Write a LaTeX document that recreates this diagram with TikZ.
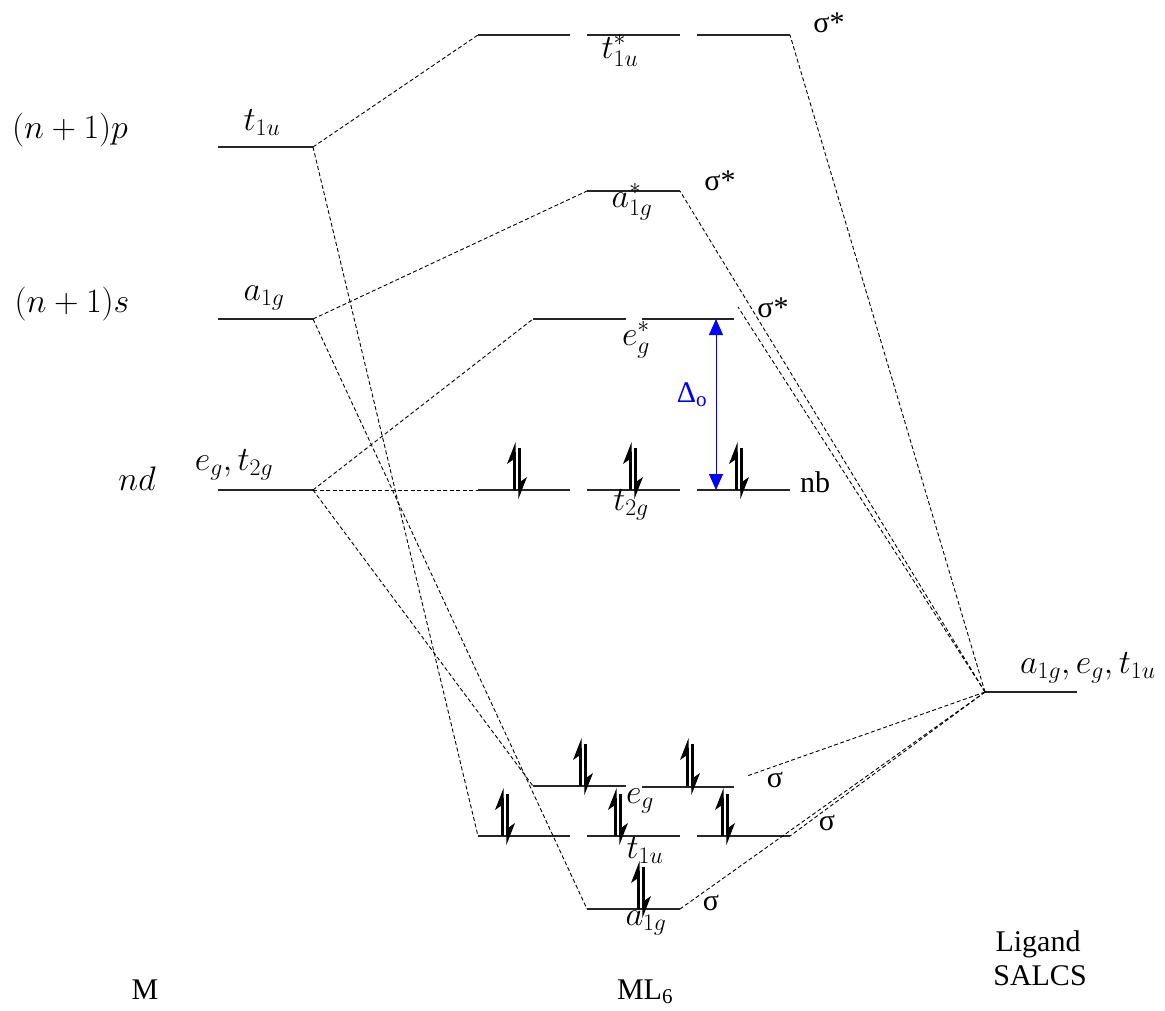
\documentclass[tikz,border=0pt]{standalone}
\usepackage{fix-cm}
\usepackage[no-math]{fontspec}
\setmainfont{Liberation Serif}
\usetikzlibrary{arrows.meta}
\begin{document}
\begin{tikzpicture}[x=1pt,y=-1pt,
  lvl/.style={line width=1.3pt, black!85},
  corr/.style={line width=0.9pt, dash pattern=on 4pt off 2.5pt},
  mlab/.style={font=\fontsize{34}{38}\selectfont, inner sep=0pt, anchor=base},
  tlab/.style={font=\fontsize{30}{34}\selectfont, inner sep=0pt, anchor=base},
  elec/.style={line width=2.2pt},
  pair/.pic={
    \draw[elec] (-2.5,0) -- (-2.5,-38);
    \fill (-1.4,-48) -- (-10,-26) -- (-1.4,-32) -- cycle;
    \draw[elec] (2.5,-42) -- (2.5,0);
    \fill (1.4,9) -- (10,-13) -- (1.4,-7) -- cycle;
  }
]
\useasboundingbox (0,0) rectangle (1165,1010);
% coordinates of level ends
\coordinate (Mp-l) at (218,147); \coordinate (Mp) at (313,147);
\coordinate (Ms-l) at (218,319); \coordinate (Ms) at (313,319);
\coordinate (Md-l) at (218,490); \coordinate (Md) at (313,490);
\coordinate (Lig) at (985,692); \coordinate (Lig-r) at (1077,692);
\coordinate (T1) at (478,35); \coordinate (T2) at (790,35);
\coordinate (A1) at (587,191); \coordinate (A2) at (680,191);
\coordinate (E1) at (533,319); \coordinate (E2) at (734,319); \coordinate (E2d) at (738,307);
\coordinate (N1) at (478,490); \coordinate (N2) at (790,490);
\coordinate (EB1) at (533,786); \coordinate (EB2) at (734,787); \coordinate (EB2d) at (747,776);
\coordinate (TB1) at (478,836); \coordinate (TB2) at (790,836);
\coordinate (AB1) at (587,909); \coordinate (AB2) at (680,909);
% levels
\draw[lvl] (Mp-l) -- (Mp);
\draw[lvl] (Ms-l) -- (Ms);
\draw[lvl] (Md-l) -- (Md);
\draw[lvl] (Lig) -- (Lig-r);
\draw[lvl] (T1) -- (570,35) (587,35) -- (680,35) (697,35) -- (T2);
\draw[lvl] (A1) -- (A2);
\draw[lvl] (E1) -- (626,319) (642,319) -- (E2);
\draw[lvl] (N1) -- (570,490) (587,490) -- (680,490) (697,490) -- (N2);
\draw[lvl] (EB1) -- (626,786) (642,787) -- (EB2);
\draw[lvl] (TB1) -- (570,836) (587,836) -- (680,836) (697,836) -- (TB2);
\draw[lvl] (AB1) -- (AB2);
% correlation lines
\draw[corr] (Mp) -- (T1);
\draw[corr] (Mp) -- (TB1);
\draw[corr] (Ms) -- (A1);
\draw[corr] (Ms) -- (AB1);
\draw[corr] (Md) -- (E1);
\draw[corr] (Md) -- (N1);
\draw[corr] (Md) -- (EB1);
\draw[corr] (Lig) -- (T2);
\draw[corr] (Lig) -- (A2);
\draw[corr] (Lig) -- (E2d);
\draw[corr] (Lig) -- (EB2d);
\draw[corr] (Lig) -- (TB2);
\draw[corr] (Lig) -- (AB2);
% electrons
\pic at (517,490) {pair}; \pic at (633,490) {pair}; \pic at (739,490) {pair};
\pic at (583,786) {pair}; \pic at (690,786) {pair};
\pic at (505,836) {pair}; \pic at (618,836) {pair}; \pic at (725,836) {pair};
\pic at (641,909) {pair};
% Delta_o
\coordinate (DeTop) at (716,319); \coordinate (DeBot) at (716,490);
\draw[blue, line width=1pt, {Triangle[length=16pt,width=14pt]}-{Triangle[length=16pt,width=14pt]}] (DeTop) -- (DeBot);
\node[tlab, blue] (Dlab) at (692,402) {Δ\textsubscript{o}};
% labels metal
\node[mlab] (lp) at (70,138) {$(n+1)p$};
\node[mlab] (lpt) at (262,130) {$t_{1u}$};
\node[mlab] (ls) at (72,312) {$(n+1)s$};
\node[mlab] (lsa) at (264,300) {$a_{1g}$};
\node[mlab] (ld) at (137,490) {$nd$};
\node[mlab] (ldt) at (234,470) {$e_g, t_{2g}$};
% labels complex
\node[mlab] (l1) at (620,58) {$t_{1u}^{*}$};
\node[tlab] (s1) at (829,32) {σ*};
\node[mlab] (l2) at (632,207) {$a_{1g}^{*}$};
\node[tlab] (s2) at (720,190) {σ*};
\node[mlab] (l3) at (636,345) {$e_{g}^{*}$};
\node[tlab] (s3) at (773,317) {σ*};
\node[mlab] (l4) at (631,510) {$t_{2g}$};
\node[tlab, anchor=base west] (s4) at (800,492) {nb};
\node[mlab] (l5) at (640,803) {$e_g$};
\node[tlab] (s5) at (775,787) {σ};
\node[mlab] (l6) at (645,858) {$t_{1u}$};
\node[tlab] (s6) at (827,830) {σ};
\node[mlab] (l7) at (646,925) {$a_{1g}$};
\node[tlab] (s7) at (711,910) {σ};
% ligand
\node[mlab, anchor=base west] (lg) at (1020,673) {$a_{1g}, e_g, t_{1u}$};
\node[tlab] (lg1) at (1038,951) {Ligand};
\node[tlab] (lg2) at (1040,985) {SALCS};
% bottom
\node[tlab] (bM) at (145,999) {M};
\node[tlab] (bML) at (645,999) {ML\textsubscript{6}};
\end{tikzpicture}
\end{document}
